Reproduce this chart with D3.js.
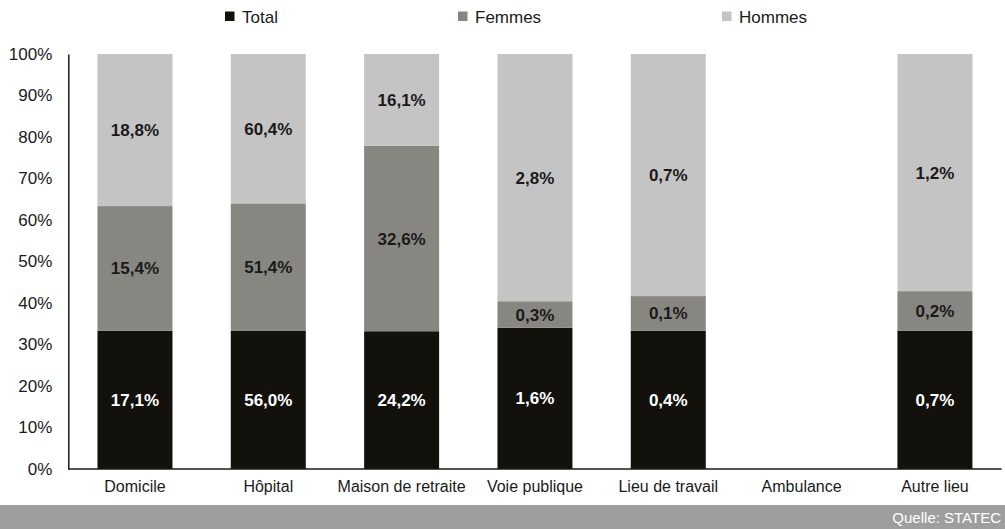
<!DOCTYPE html>
<html>
<head>
<meta charset="utf-8">
<script src="https://cdn.jsdelivr.net/npm/d3@7"></script>
<style>
  html, body { margin: 0; padding: 0; background: #fff; }
  svg { display: block; font-family: "Liberation Sans", Arial, sans-serif; }
</style>
</head>
<body>
<svg id="chart" width="1005" height="529"></svg>
<script>
// Lieu de décès – répartition Total / Femmes / Hommes
const categories = ["Domicile", "Hôpital", "Maison de retraite", "Voie publique", "Lieu de travail", "Ambulance", "Autre lieu"];
const seriesNames = ["Total", "Femmes", "Hommes"];
const totalValues  = [17.1, 56.0, 24.2, 1.6, 0.4, 0, 0.7];
const femmesValues = [15.4, 51.4, 32.6, 0.3, 0.1, 0, 0.2];
const hommesValues = [18.8, 60.4, 16.1, 2.8, 0.7, 0, 1.2];
const yTicks = [0, 0.1, 0.2, 0.3, 0.4, 0.5, 0.6, 0.7, 0.8, 0.9, 1];
const sourceText = "Quelle: STATEC";

const colors = { Total: "#12110c", Femmes: "#878681", Hommes: "#c4c4c4" };
const labelColors = { Total: "#ffffff", Femmes: "#1a1a1a", Hommes: "#1a1a1a" };

const rows = categories.map((c, i) => ({
  category: c,
  Total: totalValues[i],
  Femmes: femmesValues[i],
  Hommes: hommesValues[i]
}));

const stacked = d3.stack()
  .keys(seriesNames)
  .offset(d3.stackOffsetExpand)(rows);

const svg = d3.select("#chart");
const W = 1005, H = 529;

const x = d3.scaleBand()
  .domain(categories)
  .range([68.3, 1001.6])
  .paddingInner(0.4375)
  .paddingOuter(0.21875);

const y = d3.scaleLinear().domain([0, 1]).range([469, 54]);

// Bars
const layers = svg.append("g").selectAll("g")
  .data(stacked)
  .join("g")
  .attr("fill", d => colors[d.key]);

layers.selectAll("rect")
  .data(d => d.map(p => ({ p, key: d.key })))
  .join("rect")
  .attr("x", d => x(d.p.data.category))
  .attr("width", x.bandwidth())
  .attr("y", d => y(d.p[1]))
  .attr("height", d => Math.max(0, y(d.p[0]) - y(d.p[1])));

// Value labels
const fmt = v => v.toFixed(1).replace(".", ",") + "%";
const labels = svg.append("g")
  .attr("font-weight", "bold")
  .attr("font-size", 17)
  .attr("text-anchor", "middle");

stacked.forEach(layer => {
  layer.forEach(p => {
    const v = p.data[layer.key];
    if (!v) return;
    labels.append("text")
      .attr("x", x(p.data.category) + x.bandwidth() / 2)
      .attr("y", y((p[0] + p[1]) / 2))
      .attr("dy", "0.36em")
      .attr("fill", labelColors[layer.key])
      .text(fmt(v));
  });
});

// Y axis
const yAxis = svg.append("g")
  .attr("transform", "translate(68.3,0)")
  .call(d3.axisLeft(y).tickValues(yTicks).tickFormat(d3.format(".0%")).tickSize(0).tickPadding(16));
yAxis.select(".domain").attr("stroke", "#1a1a1a").attr("stroke-width", 1.5);
yAxis.selectAll("text").attr("font-size", 17).attr("fill", "#1a1a1a")
  .attr("font-family", "Liberation Sans, Arial, sans-serif");

// X axis
const xAxis = svg.append("g")
  .attr("transform", "translate(0,469)")
  .call(d3.axisBottom(x).tickSize(0).tickPadding(12));
xAxis.select(".domain").attr("stroke", "#1a1a1a").attr("stroke-width", 1.5)
  .attr("d", "M68.3,0H1001.6");
xAxis.selectAll("text").attr("font-size", 16).attr("fill", "#1a1a1a")
  .attr("font-family", "Liberation Sans, Arial, sans-serif");

// Legend
const legendX = [225, 458, 722];
const legend = svg.append("g");
seriesNames.forEach((name, i) => {
  legend.append("rect")
    .attr("x", legendX[i]).attr("y", 11.5)
    .attr("width", 9.5).attr("height", 9.5)
    .attr("fill", colors[name]);
  legend.append("text")
    .attr("x", legendX[i] + 17).attr("y", 22.5)
    .attr("font-size", 17).attr("fill", "#1a1a1a")
    .text(name);
});

// Source band
svg.append("rect")
  .attr("x", 0).attr("y", 505).attr("width", W).attr("height", H - 505)
  .attr("fill", "#9d9e9d");
svg.append("text")
  .attr("x", 1001).attr("y", 522.5)
  .attr("text-anchor", "end")
  .attr("font-size", 15).attr("fill", "#ffffff")
  .text(sourceText);
</script>
</body>
</html>
